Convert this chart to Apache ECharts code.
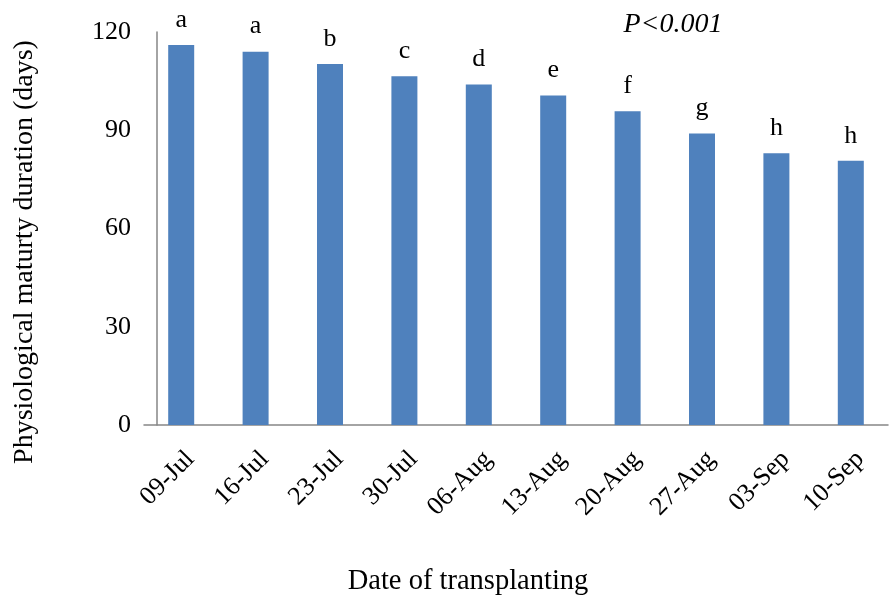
<!DOCTYPE html>
<html>
<head>
<meta charset="utf-8">
<script src="https://cdn.jsdelivr.net/npm/echarts@6/dist/echarts.min.js"></script>
<style>
  html, body { margin: 0; padding: 0; background: #fff; }
  #main { width: 892px; height: 596px; }
</style>
</head>
<body>
<div id="main"></div>
<script>
// transplanting dates and maturity duration (days)
var dates = ['09-Jul', '16-Jul', '23-Jul', '30-Jul', '06-Aug', '13-Aug', '20-Aug', '27-Aug', '03-Sep', '10-Sep'];
var days = [116, 114, 110.2, 106.5, 104, 100.6, 95.8, 89, 83, 80.7];
var letters = ['a', 'a', 'b', 'c', 'd', 'e', 'f', 'g', 'h', 'h'];
var yTicks = [0, 30, 60, 90, 120];

var serif = '"Liberation Serif", "Times New Roman", serif';

var chart = echarts.init(document.getElementById('main'));

chart.setOption({
    animation: false,
    title: [{
        text: 'P<0.001',
        left: 668,
        top: 6,
        textAlign: 'center',
        textStyle: { fontFamily: serif, fontStyle: 'italic', fontWeight: 'normal', fontSize: 28, color: '#000' }
    }, {
        text: 'Date of transplanting',
        left: 463,
        top: 562,
        textAlign: 'center',
        textStyle: { fontFamily: serif, fontWeight: 'normal', fontSize: 28.5, color: '#000' }
    }],
    graphic: [{
        type: 'text',
        x: 25,
        y: 252,
        rotation: Math.PI / 2,
        style: {
            text: 'Physiological maturty duration (days)',
            font: '28px ' + serif,
            fill: '#000',
            align: 'center',
            verticalAlign: 'middle'
        }
    }],
    grid: { left: 144, right: 4, top: 32, bottom: 171 },
    xAxis: {
        type: 'category',
        data: dates,
        axisLine: { lineStyle: { color: '#868686', width: 1.5 } },
        axisTick: { show: false },
        axisLabel: {
            rotate: 45,
            margin: 21,
            verticalAlign: 'top',
            fontFamily: serif,
            fontSize: 26,
            color: '#000'
        }
    },
    yAxis: {
        type: 'value',
        min: yTicks[0],
        max: yTicks[yTicks.length - 1],
        interval: 30,
        offset: -13,
        axisLine: { show: true, lineStyle: { color: '#868686', width: 1.5 } },
        axisTick: { show: false },
        splitLine: { show: false },
        axisLabel: {
            margin: 26,
            fontFamily: serif,
            fontSize: 26,
            color: '#000'
        }
    },
    series: [{
        type: 'bar',
        data: days,
        barWidth: 26,
        itemStyle: { color: '#4F81BD' },
        label: {
            show: true,
            position: 'top',
            distance: 12,
            fontFamily: serif,
            fontSize: 26,
            color: '#000',
            formatter: function (p) { return letters[p.dataIndex]; }
        }
    }]
});
</script>
</body>
</html>
